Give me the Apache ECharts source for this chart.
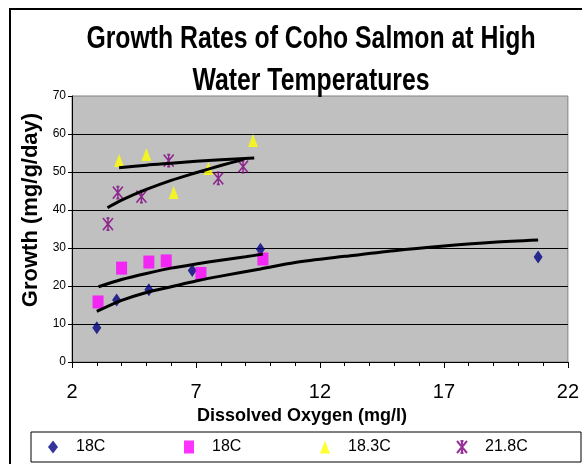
<!DOCTYPE html>
<html>
<head>
<meta charset="utf-8">
<script src="https://cdn.jsdelivr.net/npm/echarts@6/dist/echarts.min.js"></script>
<style>
  html, body { margin: 0; padding: 0; background: #ffffff; }
  #chart { width: 582px; height: 464px; }
</style>
</head>
<body>
<div id="chart"></div>
<script>
// ---- data ----
const titleLines = ['Growth Rates of Coho Salmon at High', 'Water Temperatures'];
const xAxisTitle = 'Dissolved Oxygen (mg/l)';
const yAxisTitle = 'Growth (mg/g/day)';
const seriesNames = ['18C', '18C ', '18.3C', '21.8C'];

// points: [dissolved oxygen, growth]
const navy18C = [[3.0, 9.0], [3.8, 16.3], [5.1, 19.0], [6.85, 24.1], [9.6, 29.7], [20.8, 27.6]];
const pink18C = [[3.05, 15.8], [4.0, 24.7], [5.1, 26.3], [5.8, 26.6], [7.2, 23.3], [9.7, 27.1]];
const yellow183C = [[3.9, 53.0], [5.0, 54.6], [6.1, 44.6], [7.5, 50.9], [9.3, 58.3]];
const purple218C = [[3.45, 36.3], [3.85, 44.6], [4.8, 43.5], [5.9, 53.0], [7.9, 48.3], [8.9, 51.4]];

// logarithmic trend lines
const navyTrend = [[3.0, 13.3], [4, 16.2], [5, 18.3], [6, 19.8], [7, 21.3], [8, 22.6], [9.6, 24.5], [11, 26.2], [13, 27.8], [15, 29.3], [17, 30.5], [19, 31.5], [20.8, 32.1]];
const pinkTrend = [[3.07, 19.8], [4, 21.7], [5, 23.3], [6, 24.7], [7, 25.8], [8, 26.8], [9, 27.7], [9.7, 28.4]];
const yellowTrend = [[3.9, 51.1], [5, 51.8], [6, 52.3], [7, 52.8], [8, 53.2], [9.35, 53.7]];
const purpleTrend = [[3.43, 40.6], [4, 42.6], [5, 45.4], [6, 47.8], [7, 49.8], [8, 51.7], [8.9, 53.3]];

const xTicks = { min: 2, max: 22, interval: 5 };
const yTicks = { min: 0, max: 70, interval: 10 };

const FONT = '"Liberation Sans", Arial, sans-serif';
const asteriskPath = 'path://M0,0L10,12M10,0L0,12M5,0L5,12M3.5,0L6.5,0M3.5,12L6.5,12';

function trend(name, data) {
  return {
    name: name, type: 'line', data: data, showSymbol: false, symbol: 'none',
    smooth: 0.3, silent: true, z: 3,
    lineStyle: { color: '#000000', width: 3 },
    emphasis: { disabled: true }
  };
}

const chart = echarts.init(document.getElementById('chart'), null, { renderer: 'canvas' });
chart.setOption({
  animation: false,
  backgroundColor: '#ffffff',
  textStyle: { fontFamily: FONT },
  graphic: [
    { type: 'rect', shape: { x: 10, y: 9, width: 640, height: 520 },
      style: { fill: 'none', stroke: '#000000', lineWidth: 2 }, silent: true },
    { type: 'text', x: 311, y: 39, scaleX: 0.8, scaleY: 1,
      style: { text: titleLines[0], font: 'bold 31px ' + FONT, fill: '#000000',
               textAlign: 'center', textVerticalAlign: 'middle' } },
    { type: 'text', x: 311, y: 81, scaleX: 0.8, scaleY: 1,
      style: { text: titleLines[1], font: 'bold 31px ' + FONT, fill: '#000000',
               textAlign: 'center', textVerticalAlign: 'middle' } }
  ],
  grid: {
    left: 72, right: 7, top: 96, bottom: 102, containLabel: false,
    show: true, backgroundColor: '#C0C0C0', borderColor: '#808080', borderWidth: 1
  },
  legend: {
    data: seriesNames,
    left: 31, top: 432,
    orient: 'horizontal',
    padding: [7, 8, 7, 17],
    itemWidth: 10, itemHeight: 13, itemGap: 20,
    borderColor: '#000000', borderWidth: 1,
    formatter: function (n) { return n.trim(); },
    textStyle: { fontFamily: FONT, fontSize: 16, color: '#000000', width: 88, lineHeight: 14, padding: [0, 0, 0, 13] },
    selectedMode: false
  },
  xAxis: {
    type: 'value', min: xTicks.min, max: xTicks.max, interval: xTicks.interval,
    name: xAxisTitle, nameLocation: 'middle', nameGap: 42,
    nameTextStyle: { fontFamily: FONT, fontSize: 18, fontWeight: 'bold', color: '#000000', padding: [0, 36, 0, 0] },
    axisLine: { show: true, onZero: false, lineStyle: { color: '#000000', width: 1 } },
    axisTick: { show: true, length: 6, lineStyle: { color: '#000000' } },
    minorTick: { show: true, splitNumber: 5, length: 4, lineStyle: { color: '#000000' } },
    splitLine: { show: false },
    axisLabel: { fontFamily: FONT, fontSize: 20, color: '#000000', margin: 20 }
  },
  yAxis: {
    type: 'value', min: yTicks.min, max: yTicks.max, interval: yTicks.interval,
    name: yAxisTitle, nameLocation: 'middle', nameGap: 25, nameRotate: 90,
    nameTextStyle: { fontFamily: FONT, fontSize: 22, fontWeight: 'bold', color: '#000000', padding: [0, 0, 0, 38] },
    axisLine: { show: true, onZero: false, lineStyle: { color: '#000000', width: 1 } },
    axisTick: { show: true, length: 4, lineStyle: { color: '#000000' } },
    splitLine: { show: true, showMaxLine: false, showMinLine: false, lineStyle: { color: '#000000', width: 1 } },
    axisLabel: { fontFamily: FONT, fontSize: 12, color: '#000000', margin: 6 }
  },
  series: [
    { name: seriesNames[0], type: 'scatter', data: navy18C, symbol: 'diamond', symbolSize: [9, 13],
      itemStyle: { color: '#000080' }, z: 2 },
    { name: seriesNames[1], type: 'scatter', data: pink18C, symbol: 'rect', symbolSize: [11, 13],
      itemStyle: { color: '#FF00FF' }, z: 2 },
    { name: seriesNames[2], type: 'scatter', data: yellow183C, symbol: 'triangle', symbolSize: [10, 13],
      itemStyle: { color: '#FFFF00' }, z: 2 },
    { name: seriesNames[3], type: 'scatter', data: purple218C, symbol: asteriskPath, symbolSize: [10, 12],
      itemStyle: { color: 'transparent', borderColor: '#800080', borderWidth: 1.6 }, z: 2 },
    trend('Log. (18C)', navyTrend),
    trend('Log. (18C) 2', pinkTrend),
    trend('Log. (18.3C)', yellowTrend),
    trend('Log. (21.8C)', purpleTrend)
  ]
});
</script>
</body>
</html>
